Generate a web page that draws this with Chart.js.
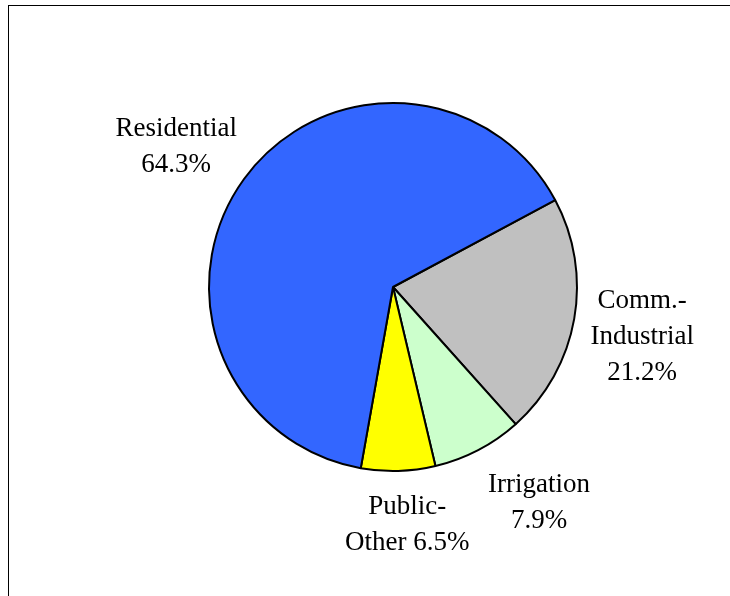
<!DOCTYPE html>
<html>
<head>
<meta charset="utf-8">
<script src="https://cdn.jsdelivr.net/npm/chart.js@4"></script>
<style>
    html, body { margin: 0; padding: 0; background: #fff; }
    #wrap { position: relative; width: 730px; height: 596px; overflow: hidden; }
    #frame {
        position: absolute; left: 8px; top: 5px; width: 800px; height: 700px;
        border-left: 1px solid #000; border-top: 1px solid #000;
    }
    #pie { position: absolute; left: 0; top: 0; }
</style>
</head>
<body>
<div id="wrap">
    <div id="frame"></div>
    <canvas id="pie" width="730" height="596"></canvas>
</div>
<script>
// =============================
// Data
// =============================

const categories = ['Comm.-Industrial', 'Irrigation', 'Public-Other', 'Residential'];
const shares = [21.2, 7.9, 6.5, 64.3];
const labelLines = [
    ['Comm.-', 'Industrial', '21.2%'],
    ['Irrigation', '7.9%'],
    ['Public-', 'Other 6.5%'],
    ['Residential', '64.3%']
];
const sliceColors = ['#C0C0C0', '#CCFFCC', '#FFFF00', '#3366FF'];

// nudge each label a little from its slice's mid-angle spot
const labelNudge = [[0, 13], [29, -1], [7, -8], [-12, 16]];

// =============================
// Label plugin
// =============================

const sliceLabels = {
    id: 'sliceLabels',
    afterDatasetsDraw(chart) {
        const ctx = chart.ctx;
        const arcs = chart.getDatasetMeta(0).data;
        ctx.save();
        ctx.font = '27px "Liberation Serif", "Times New Roman", serif';
        ctx.fillStyle = '#000';
        ctx.textAlign = 'center';
        ctx.textBaseline = 'alphabetic';
        const lineH = 36;
        arcs.forEach((arc, i) => {
            const mid = (arc.startAngle + arc.endAngle) / 2;
            const dist = arc.outerRadius * 1.375;
            const x = arc.x + Math.cos(mid) * dist + labelNudge[i][0];
            const y = arc.y + Math.sin(mid) * dist + labelNudge[i][1];
            const lines = labelLines[i];
            const first = y - (lines.length - 1) * lineH / 2;
            lines.forEach((t, k) => {
                ctx.fillText(t, x, first + k * lineH);
            });
        });
        ctx.restore();
    }
};

const pieChart = new Chart(document.getElementById('pie'), {
    type: 'pie',
    data: {
        labels: categories,
        datasets: [{
            data: shares,
            backgroundColor: sliceColors,
            borderColor: '#000',
            borderWidth: 2
        }]
    },
    options: {
        responsive: false,
        animation: false,
        devicePixelRatio: 1,
        rotation: 61.8,
        layout: {
            padding: { left: 208, right: 152, top: 102, bottom: 124 }
        },
        plugins: {
            legend: { display: false },
            tooltip: { enabled: false }
        }
    },
    plugins: [sliceLabels]
});
</script>
</body>
</html>
